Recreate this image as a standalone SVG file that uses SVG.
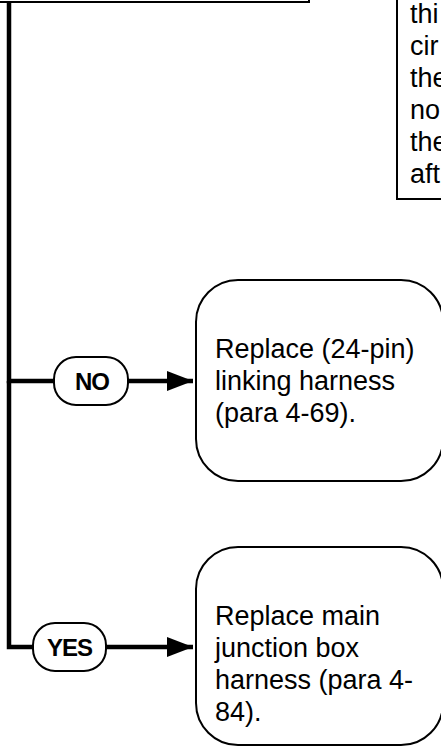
<svg xmlns="http://www.w3.org/2000/svg" width="441" height="746" viewBox="0 0 441 746">
<style>
.box{fill:#fff;stroke:#000;stroke-width:2}
.pill{fill:#fff;stroke:#000;stroke-width:2}
.t{font-family:"Liberation Sans",Arial,sans-serif;font-size:27px;fill:#000}
.lbl{font-family:"Liberation Sans",Arial,sans-serif;font-size:24px;font-weight:bold;fill:#000;text-anchor:middle;letter-spacing:-1px}
.c{fill:none;stroke:#000;stroke-width:4.5}
</style>
<defs>
<marker id="ah" markerUnits="userSpaceOnUse" markerWidth="26" markerHeight="20" refX="26" refY="10" orient="auto">
<path d="M0,0 L26,10 L0,20 Z" fill="#000"/>
</marker>
</defs>
<rect width="441" height="746" fill="#fff"/>
<g id="top-box"><rect class="box" x="-10" y="-60" width="319" height="62"/></g>
<g id="note"><rect class="box" x="397" y="-20" width="60" height="219"/>
<text class="t" x="410" y="23">thi</text>
<text class="t" x="410" y="55">cir</text>
<text class="t" x="410" y="87">the</text>
<text class="t" x="410" y="119">no</text>
<text class="t" x="410" y="151">the</text>
<text class="t" x="410" y="183">aft</text>
</g>
<g id="connectors">
<path class="c" d="M9,2 V381 H54"/>
<path class="c" d="M9,381 V647 H33"/>
<path class="c" d="M128,381 H193" marker-end="url(#ah)"/>
<path class="c" d="M106,647 H193" marker-end="url(#ah)"/>
</g>
<g id="no-label"><rect class="pill" x="54" y="357" width="74" height="48" rx="22"/>
<text class="lbl" x="92" y="390">NO</text></g>
<g id="yes-label"><rect class="pill" x="33" y="623" width="73" height="48" rx="22"/>
<text class="lbl" x="69.5" y="656">YES</text></g>
<g id="no-box"><rect class="box" x="196" y="280" width="247" height="201" rx="42"/>
<text class="t" x="215" y="358">Replace (24-pin)</text>
<text class="t" x="215" y="390">linking harness</text>
<text class="t" x="215" y="422">(para 4-69).</text></g>
<g id="yes-box"><rect class="box" x="196" y="547" width="247" height="198" rx="42"/>
<text class="t" x="215" y="625">Replace main</text>
<text class="t" x="215" y="657">junction box</text>
<text class="t" x="215" y="689">harness (para 4-</text>
<text class="t" x="215" y="721">84).</text></g>
</svg>
